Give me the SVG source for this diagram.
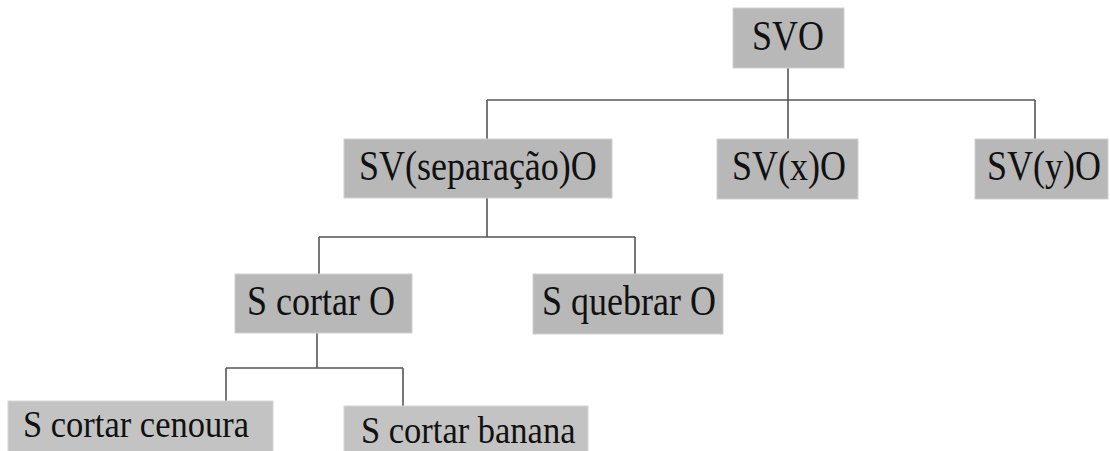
<svg xmlns="http://www.w3.org/2000/svg" width="1110" height="451" viewBox="0 0 1110 451">
<style>
.box{fill:#b8b8b8;stroke:#d0d0d0;stroke-width:1}
.box2{fill:#c3c3c3;stroke:#d6d6d6;stroke-width:1}
.t{font-family:"Liberation Serif","Times New Roman",serif;font-size:36px;fill:#111}
.t2{font-family:"Liberation Serif","Times New Roman",serif;font-size:34.5px;fill:#111}
.c{fill:none;stroke:#555;stroke-width:1.6}
</style>
<rect width="1110" height="451" fill="#fff"/>
<g id="connectors">
<path class="c" d="M788 68V100M487 100H1035M487 100V139M788 100V139M1035 100V139"/>
<path class="c" d="M487 198V237M319 237H635M319 237V274M635 237V274"/>
<path class="c" d="M317 333V368M226 368H403M226 368V401M403 368V406"/>
</g>
<g id="n-svo"><rect class="box" x="733" y="8" width="111" height="60"/><text class="t" transform="translate(752,50) scale(1,1.15)">SVO</text></g>
<g id="n-sep"><rect class="box" x="344" y="139" width="268" height="59"/><text class="t" transform="translate(359,180) scale(1,1.15)">SV(separação)O</text></g>
<g id="n-x"><rect class="box" x="717" y="139" width="141" height="60"/><text class="t" transform="translate(732,180) scale(1,1.15)">SV(x)O</text></g>
<g id="n-y"><rect class="box" x="975" y="139" width="133" height="60"/><text class="t" transform="translate(987,180) scale(1,1.15)">SV(y)O</text></g>
<g id="n-cortar"><rect class="box" x="235" y="274" width="177" height="59"/><text class="t" transform="translate(247,315) scale(1,1.15)">S cortar O</text></g>
<g id="n-quebrar"><rect class="box" x="533" y="274" width="190" height="60"/><text class="t" transform="translate(542,315) scale(1,1.15)">S quebrar O</text></g>
<g id="n-cenoura"><rect class="box2" x="8" y="401" width="265" height="52"/><text class="t2" transform="translate(23,437) scale(1,1.1)">S cortar cenoura</text></g>
<g id="n-banana"><rect class="box2" x="344" y="406" width="244" height="47"/><text class="t2" transform="translate(361,443) scale(1,1.1)">S cortar banana</text></g>
</svg>
